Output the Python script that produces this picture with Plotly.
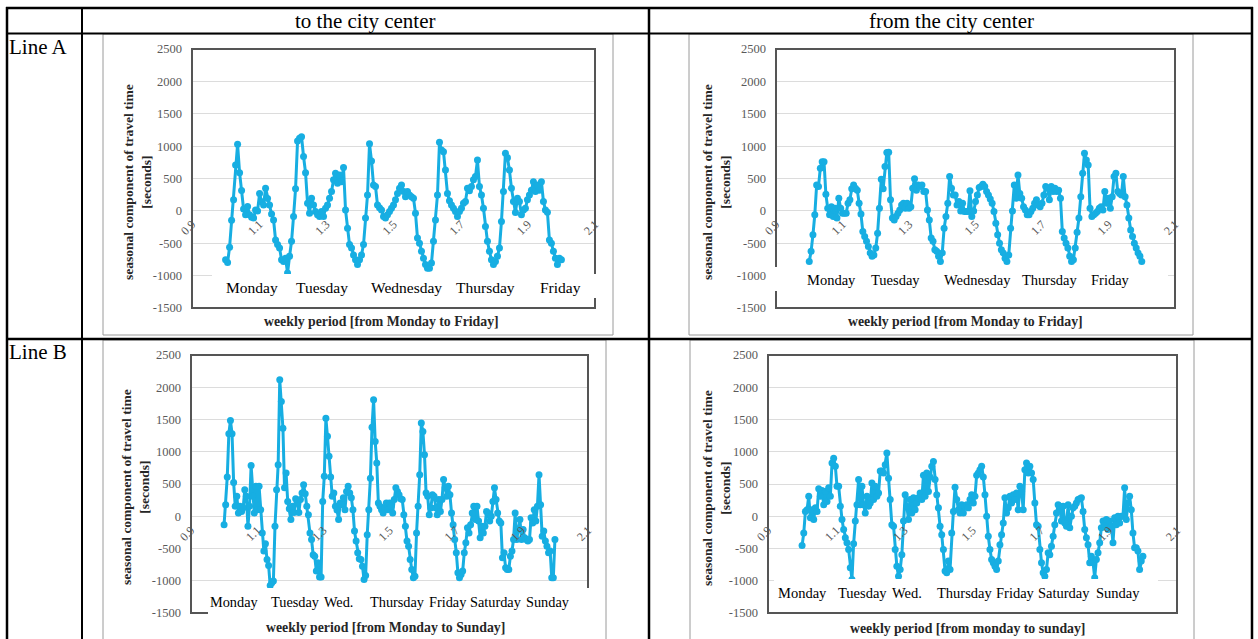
import numpy as np
import plotly.graph_objects as go

W, H = 1258, 639

# ---------------- data (seasonal component of travel time, seconds) ----------------
# Line A, to the city center (Mon..Fri)
a_to_mon = [-755, -797, -560, -144, 170, 710, 1028, 590, 314, 30, -60, 67, -60, -100, -110, 15, 0, 270, 140, 90,
            350, 190, 90, -50, -140, -450, -520, -575, -755, -780, -730, -960, -700]
a_to_tue = [-470, -85, 340, 1080, 1120, 1145, 840, 590, 118, -35, 195, 90, -10, -60, -85, -10, -85, 40, 90, 195,
            300, 480, 580, 425, 555, 450, 670, 15, -270, -520, -575, -680, -755, -830, -755, -680, -520]
a_to_wed = [-110, 245, 1035, 770, 400, 375, 90, 50, 15, -85, -110, -60, -10, 40, 90, 170, 270, 350, 400, 300,
            220, 300, 245, 220, 195, -35, -420, -500, -625, -730, -830, -885, -885, -805, -470]
a_to_thu = [-140, 245, 1060, 940, 915, 630, 270, 155, 90, 40, -10, -85, -10, 40, 118, 145, 350, 310, 375, 480,
            530, 785, 375, 245, 40, -240, -470, -625, -755, -830, -780, -700, -575]
a_to_fri = [-165, 300, 890, 820, 630, 350, 145, -25, 195, 145, -60, 15, 40, 170, 245, 320, 450, 300, 400, 320,
            450, 145, 15, -20, -450, -500, -625, -730, -830, -730, -755]

# Line A, from the city center (Mon..Fri)
a_from_mon = [-780, -625, -370, -60, 400, 375, 660, 760, 760, 255, 40, -60, 65, -85, 40, -110, 195, 40, -35, -35,
              -35, 118, 170, 340, 400, 350, 320, 118, -50, -320, -395, -470, -550, -650, -700, -680, -575]
a_from_tue = [-345, 40, 490, 340, 685, 900, 905, 170, -110, -140, -85, -35, 15, 90, 118, 40, 118, 40, 65, 350,
              495, 320, 400, 375, 400, 300, 300, 15, -140, -420, -470, -600, -625, -700, -780, -650, -270]
a_from_wed = [-85, 118, 530, 350, 245, 245, 90, 145, 0, 118, -10, -10, -10, 310, -85, 0, 145, 245, 360, 375,
              410, 375, 300, 245, 185, 118, -10, -190, -370, -500, -600, -650, -730, -780, -680, -270]
a_from_thu = [0, 400, 195, 555, 270, 195, 65, 15, -60, -60, -10, 40, 118, 170, 90, 65, 118, 245, 375, 350,
              170, 375, 300, 350, 300, 320, 195, -320, -420, -500, -575, -700, -780, -755, -575, -330]
a_from_fri = [-110, 220, 580, 890, 785, 710, 40, -85, -60, -35, -10, 40, 65, 15, 300, 118, 195, 40, 220, 530,
              580, 300, 270, 245, 530, 220, 90, -110, -295, -395, -500, -575, -650, -700, -780]

# Line B, to the city center (Mon..Sun)
b_to_mon = [-130, 180, 610, 1280, 1485, 1280, 525, 155, 310, 50, 155, 75, 130, 410, 310, -155, 155, 785, 310, 50,
            465, 100, 465, 100, -260, -540, -425, -670, -765, -1075, -1030, -1005]
b_to_tue = [-155, 410, 800, 2115, 1780, 1365, 440, 670, 230, 115, -50, 155, 60, 270, 205, 60, 260, 360, 490, 350,
            155, 25, -260, -360, -595, -620, -850, -720, -940, -940]
b_to_wed = [230, 620, 1520, 1240, 930, 610, 310, 360, 155, 95, -50, 205, 180, 285, 100, 385, 465, 360, 285, 100,
            -230, -385, -565, -660, -670, -775, -980, -920]
b_to_thu = [-285, 100, 590, 1380, 1805, 1160, 825, 205, 155, 100, 50, 130, 205, 100, 205, 155, 50, 260, 440, 385,
            335, 270, 260, 25, -155, -385, -465, -670, -825, -955, -930]
b_to_fri = [-260, 155, 645, 1445, 1315, 955, 360, 310, 25, 130, 335, 310, 130, 25, 260, 75, 260, 570, 440, 310,
            465, 335, 50, -130, -360, -565, -875, -955, -905, -850]
b_to_sat = [-565, -410, -180, -260, -130, 50, 155, -50, 155, -75, -335, -155, -260, -155, 75, 50, -75, 0, 230, 440,
            260, 50, -75, -105, -645, -565, -800, -825, -825]
b_to_sun = [-620, -540, -360, 50, -360, -205, -50, -360, -205, -335, -360, -385, -360, -25, -105, 100, -75, 155, 645,
            180, -310, -230, -385, -465, -565, -540, -955, -955, -360]

# Line B, from the city center (Mon..Sun)
b_from_mon = [-455, -260, 75, 100, 310, -25, 100, -50, 130, 75, 425, 310, 400, 180, 385, 230, 440, 310, 825, 900,
              775, 465, 465, 155, -50, -205, -335, -410, -515, -800, -980, -425]
b_from_tue = [-75, 180, 570, 180, 465, 180, 50, 310, 155, 205, 515, 260, 465, 310, 360, 700, 700, 670, 800, 980,
              590, 260, -130, -155, -515, -775, -930, -825, -595]
b_from_wed = [-75, 335, 155, -50, 260, 50, 285, 100, 205, 285, 360, 260, 635, 310, 670, 385, 610, 775, 850, 570,
              335, 130, -155, -285, -515, -850, -875, -695, -825]
b_from_thu = [-260, 75, 450, 260, 100, 50, 180, 50, 155, 180, 130, 260, 335, 205, 310, 635, 670, 720, 775, 610,
              335, 0, -310, -515, -670, -720, -775, -825, -695]
b_from_fri = [-440, -285, -105, 285, 50, 130, 310, 205, 335, 260, 360, 100, 465, 385, 100, 720, 825, 670, 775, 670,
              570, 205, -130, -155, -515, -720, -875, -930, -825]
b_from_sat = [-565, -595, -465, -310, -130, 50, 180, 155, -75, 155, -105, -155, 180, -180, 0, 130, 155, 205, 260,
              270, 285, 75, -205, -335, -440, -720, -620, -720, -955]
b_from_sun = [-670, -565, -410, -180, -75, -130, -50, -205, -75, -155, -410, -25, -130, 0, -105, 0, 0, 440, -50,
              205, 310, 100, -260, -490, -490, -540, -825, -695, -620]

days_a = ["Monday", "Tuesday", "Wednesday", "Thursday", "Friday"]
days_b = ["Monday", "Tuesday", "Wed.", "Thursday", "Friday", "Saturday", "Sunday"]
col_headers = ["to the city center", "from the city center"]
row_headers = ["Line A", "Line B"]
y_title = "seasonal component of travel time<br>[seconds]"
x_titles = ["weekly period [from Monday to Friday]", "weekly period [from Monday to Friday]",
            "weekly period [from Monday to Sunday]", "weekly period [from monday to sunday]"]
y_ticks = [-1500, -1000, -500, 0, 500, 1000, 1500, 2000, 2500]
x_ticks = [0.9, 1.1, 1.3, 1.5, 1.7, 1.9, 2.1]

series = [
    a_to_mon + a_to_tue + a_to_wed + a_to_thu + a_to_fri,
    a_from_mon + a_from_tue + a_from_wed + a_from_thu + a_from_fri,
    b_to_mon + b_to_tue + b_to_wed + b_to_thu + b_to_fri + b_to_sat + b_to_sun,
    b_from_mon + b_from_tue + b_from_wed + b_from_thu + b_from_fri + b_from_sat + b_from_sun,
]
day_sets = [days_a, days_a, days_b, days_b]

# ---------------- layout geometry (pixels) ----------------
SERIF = "Liberation Serif, Times New Roman, serif"
BLUE = "#17AEE2"
GREY_TXT = "#595959"


def PX(v):
    return v / W


def PY(v):
    return 1 - v / H


panels = [
    dict(rect=(192, 49, 595, 308), zero=211, box=(212, 274, 598, 298), dsize=15.5,
         day_x=[252, 322, 406, 485, 560], day_y=287, yt=(137, 182), xt=(382, 322)),
    dict(rect=(776, 49, 1175, 308), zero=211, box=(772, 267, 1168, 291), dsize=14.5,
         day_x=[832, 895, 977, 1050, 1110], day_y=280, yt=(716, 182), xt=(965, 322)),
    dict(rect=(191, 355, 588, 613), zero=517, box=(208, 588, 593, 616), dsize=14.3,
         day_x=[234, 295, 338, 397, 448, 496, 548], day_y=602, yt=(135, 487), xt=(385, 627)),
    dict(rect=(768, 355, 1177, 613), zero=517, box=(774, 579, 1158, 607), dsize=14.5,
         day_x=[802, 863, 907, 965, 1015, 1064, 1118], day_y=593, yt=(716, 488), xt=(967, 628)),
]

fig = go.Figure()
layout = dict(template="none", width=W, height=H,
              margin=dict(l=0, r=0, t=0, b=0, pad=0, autoexpand=False), autosize=False,
              paper_bgcolor="white", plot_bgcolor="white", showlegend=False,
              font=dict(family=SERIF, color="black"))
shapes = []
annotations = []


def hline(y, x0, x1, w=2, color="black"):
    shapes.append(dict(type="line", xref="paper", yref="paper", x0=PX(x0), x1=PX(x1), y0=PY(y), y1=PY(y),
                       line=dict(color=color, width=w), layer="above"))


def vline(x, y0, y1, w=2, color="black"):
    shapes.append(dict(type="line", xref="paper", yref="paper", x0=PX(x), x1=PX(x), y0=PY(y0), y1=PY(y1),
                       line=dict(color=color, width=w), layer="above"))


def rect_px(x0, y0, x1, y1, color, w=1, fill=None):
    d = dict(type="rect", xref="paper", yref="paper", x0=PX(x0), x1=PX(x1), y0=PY(y1), y1=PY(y0),
             line=dict(color=color, width=w), layer="above")
    if fill:
        d["fillcolor"] = fill
    shapes.append(d)


for i, (vals, p) in enumerate(zip(series, panels), start=1):
    sfx = "" if i == 1 else str(i)
    L, T, R, B = p["rect"]
    n = len(vals)
    xs = np.linspace(1.0, 2.0, n)
    fig.add_trace(go.Scatter(x=xs, y=vals, mode="lines+markers",
                             line=dict(color=BLUE, width=3),
                             marker=dict(color=BLUE, size=7, line=dict(width=0)),
                             xaxis=f"x{sfx}", yaxis=f"y{sfx}", hoverinfo="skip"))
    layout[f"xaxis{sfx}"] = dict(domain=[PX(L), PX(R)], range=[0.9, 2.1], tickvals=x_ticks,
                                 ticktext=[f"{t:.1f}" for t in x_ticks], tickangle=-45,
                                 anchor="free", position=PY(p["zero"]), showgrid=False, showline=False,
                                 zeroline=False, ticks="", ticklabelstandoff=3, automargin=False,
                                 tickfont=dict(family=SERIF, size=12, color=GREY_TXT), fixedrange=True)
    layout[f"yaxis{sfx}"] = dict(domain=[PY(B), PY(T)], range=[-1500, 2500], tickvals=y_ticks,
                                 ticktext=[str(v) for v in y_ticks], automargin=False,
                                 anchor=f"x{sfx}", showgrid=True, gridcolor="#dcdcdc", gridwidth=1,
                                 zeroline=False, showline=False, ticks="", ticklabelstandoff=9,
                                 tickfont=dict(family=SERIF, size=12.5, color=GREY_TXT), fixedrange=True)
    # plot frame
    shapes.append(dict(type="rect", xref=f"x{sfx} domain", yref=f"y{sfx} domain", x0=0, x1=1, y0=0, y1=1,
                       line=dict(color="#555555", width=2), layer="above"))
    # white label box
    bx0, by0, bx1, by1 = p["box"]
    rect_px(bx0, by0, bx1, by1, "rgba(0,0,0,0)", w=0, fill="white")
    for name, dx in zip(day_sets[i - 1], p["day_x"]):
        annotations.append(dict(text=name, x=PX(dx), y=PY(p["day_y"]), xref="paper", yref="paper",
                                showarrow=False, xanchor="center", yanchor="middle",
                                font=dict(family=SERIF, size=p["dsize"], color="black")))
    yt_text = "<b>" + y_title.replace("<br>", "</b><br><b>") + "</b>"
    annotations.append(dict(text=yt_text, x=PX(p["yt"][0]), y=PY(p["yt"][1]), xref="paper", yref="paper",
                            showarrow=False, textangle=-90, xanchor="center", yanchor="middle",
                            font=dict(family=SERIF, size=13.5, color="#262626"), align="center"))
    annotations.append(dict(text=f"<b>{x_titles[i - 1]}</b>", x=PX(p["xt"][0]), y=PY(p["xt"][1]),
                            xref="paper", yref="paper", showarrow=False, xanchor="center", yanchor="middle",
                            font=dict(family=SERIF, size=13.8, color="#262626")))

# image borders (grey)
rect_px(103, 34, 613, 335, "#9a9a9a", w=1)
rect_px(689, 34, 1193, 335, "#9a9a9a", w=1)
rect_px(103, 340, 606, 645, "#9a9a9a", w=1)
rect_px(690, 340, 1194, 645, "#9a9a9a", w=1)

# table grid
hline(8, 6, 1253, w=2.5)
hline(33.5, 6, 1253, w=2)
hline(339, 6, 1253, w=2.5)
vline(7, 7, 639, w=2.5)
vline(82, 8, 639, w=2)
vline(649, 8, 639, w=2.5)
vline(1252, 7, 639, w=2.5)

# headers
HF = dict(family=SERIF, size=21, color="black")
annotations.append(dict(text=col_headers[0], x=PX(365), y=PY(21), xref="paper", yref="paper", showarrow=False,
                        xanchor="center", yanchor="middle", font=HF))
annotations.append(dict(text=col_headers[1], x=PX(951), y=PY(21), xref="paper", yref="paper", showarrow=False,
                        xanchor="center", yanchor="middle", font=HF))
annotations.append(dict(text=row_headers[0], x=PX(7), y=PY(47), xref="paper", yref="paper", showarrow=False,
                        xanchor="left", yanchor="middle", font=HF))
annotations.append(dict(text=row_headers[1], x=PX(7), y=PY(352), xref="paper", yref="paper", showarrow=False,
                        xanchor="left", yanchor="middle", font=HF))

layout["shapes"] = shapes
layout["annotations"] = annotations
fig.update_layout(**layout)
fig.write_html("out.html", config={"displayModeBar": False},
               post_script="document.documentElement.style.margin='0';document.body.style.margin='0';"
                           "document.body.style.overflow='hidden';")
